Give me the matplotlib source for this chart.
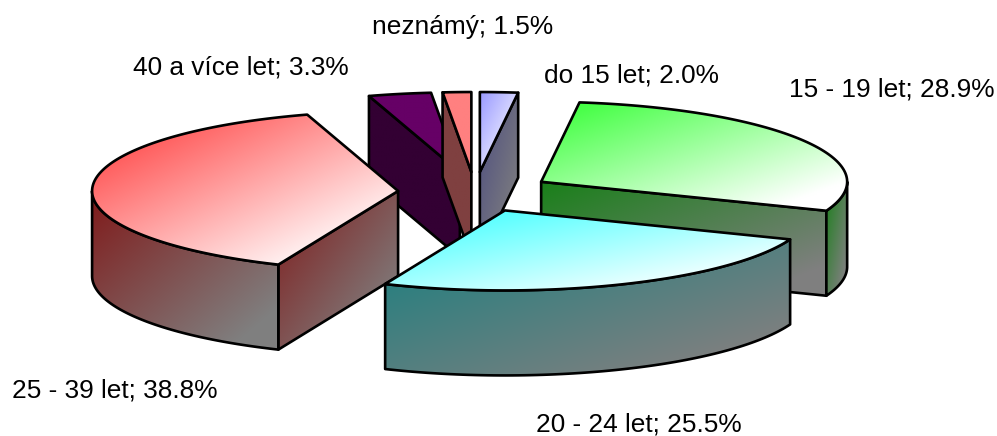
import numpy as np
import matplotlib
matplotlib.use("Agg")
import matplotlib.pyplot as plt
from matplotlib.patches import Polygon

categories = ["do 15 let", "15 - 19 let", "20 - 24 let", "25 - 39 let", "40 a více let", "neznámý"]
values = [2.0, 28.9, 25.5, 38.8, 3.3, 1.5]
top_start = ["#9999FF", "#33FF33", "#33FFFF", "#FF3333", "#660066", "#FF8080"]
top_end = ["#FFFFFF", "#FFFFFF", "#FFFFFF", "#FFFFFF", "#660066", "#FF8080"]
label_pos = [(544, 75), (789, 89), (536, 424), (12, 390), (133, 68), (372, 27)]

W, H = 997, 436
CX, CY = 475.0, 192.0
RX, RY = 306.0, 80.0
EX, EY = 77.0, 20.0
DEPTH = 85.0
DRAW_ORDER = [4, 5, 0, 1, 3, 2]

plt.rcParams["font.family"] = ["Liberation Sans", "DejaVu Sans"]
fig = plt.figure(figsize=(W / 100, H / 100), dpi=100)
ax = fig.add_axes([0, 0, 1, 1])
ax.axis("off")

layer = [10]


def rgb(c):
    return np.array(matplotlib.colors.to_rgb(c))


def face(pts, c0, c1):
    pts = np.asarray(pts)
    x0, y0 = pts.min(axis=0)
    x1, y1 = pts.max(axis=0)
    nx, ny = 96, 96
    u, v = np.meshgrid(np.linspace(0, 1, nx), np.linspace(0, 1, ny))
    t = np.clip((u + v) / 2 * 1.15, 0, 1)[..., None]
    img = rgb(c0) * (1 - t) + rgb(c1) * t
    layer[0] += 1
    im = ax.imshow(img, extent=(x0, x1, y1, y0), interpolation="bilinear",
                   aspect="auto", zorder=layer[0])
    layer[0] += 1
    edge = Polygon(pts, closed=True, facecolor="none", edgecolor="black",
                   linewidth=1.9, joinstyle="round", zorder=layer[0])
    ax.add_patch(edge)
    im.set_clip_path(edge)


fracs = np.array(values) / sum(values) * 2 * np.pi
ends = np.cumsum(fracs)
starts = ends - fracs

for i in DRAW_ORDER:
    a, b = starts[i], ends[i]
    mid = (a + b) / 2
    ox = CX + EX * np.sin(mid)
    oy = CY - EY * np.cos(mid)
    pt = lambda th: np.array([ox + RX * np.sin(th), oy - RY * np.cos(th)])
    apex = np.array([ox, oy])
    down = np.array([0, DEPTH])
    shaded_start = rgb(top_start[i]) * 0.5
    shaded_end = rgb(top_end[i]) * 0.5
    # cut faces
    for th, vis in ((a, np.sin(a) < 0), (b, np.sin(b) > 0)):
        if vis:
            p = pt(th)
            face([apex, p, p + down, apex + down], shaded_start, shaded_end)
    # outer rim
    lo, hi = max(a, np.pi / 2), min(b, 3 * np.pi / 2)
    if hi > lo:
        arc = np.array([pt(t) for t in np.linspace(lo, hi, 80)])
        face(np.vstack([arc, (arc + down)[::-1]]), shaded_start, shaded_end)
    # top
    arc = np.array([pt(t) for t in np.linspace(a, b, 120)])
    face(np.vstack([apex, arc]), top_start[i], top_end[i])

for cat, val, (x, y) in zip(categories, values, label_pos):
    ax.text(x, y, f"{cat}; {val:.1f}%", fontsize=18.9, color="black", ha="left",
            va="center", zorder=1000)

ax.set_xlim(0, W)
ax.set_ylim(H, 0)
fig.savefig("out.png", dpi=100, facecolor="white")
